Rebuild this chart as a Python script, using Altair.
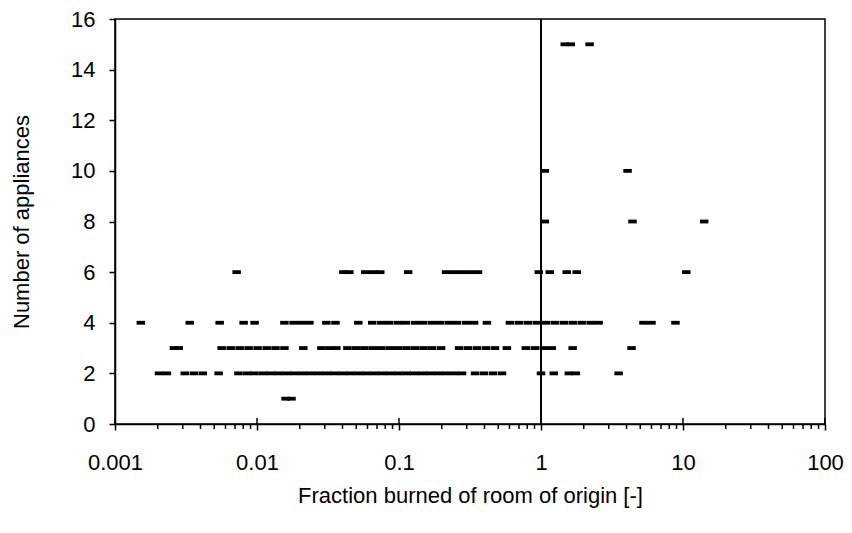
import altair as alt
import pandas as pd

# Fraction burned of room of origin, grouped by number of appliances
frac_1 = [0.0159, 0.0175]
frac_2 = [0.00204, 0.00232, 0.0031, 0.00359, 0.00415, 0.00537,
          0.0074, 0.0085, 0.0096, 0.011, 0.0125, 0.0142, 0.0162, 0.0184, 0.021, 0.0239,
          0.0272, 0.031, 0.0352, 0.0401, 0.0456, 0.0519, 0.059, 0.0672, 0.0765, 0.087,
          0.099, 0.113, 0.128, 0.146, 0.166, 0.189, 0.215, 0.245, 0.278,
          0.343, 0.396, 0.459, 0.531, 1.0, 1.23, 1.57, 1.76, 3.52]
frac_3 = [0.0026, 0.00281, 0.00564, 0.00653, 0.00755, 0.00873, 0.0101, 0.0117, 0.0135, 0.0156,
          0.0212, 0.0284, 0.0324, 0.0362,
          0.0433, 0.0497, 0.057, 0.0654, 0.075, 0.0861, 0.0987, 0.113, 0.13, 0.149, 0.171, 0.198,
          0.265, 0.306, 0.354, 0.41, 0.474, 0.575,
          0.782, 0.905, 1.046, 1.19, 1.67, 4.34]
frac_4 = [0.00152, 0.00336, 0.00546, 0.00805, 0.00962, 0.0156, 0.0181, 0.0206, 0.0234,
          0.0308, 0.0357, 0.0517,
          0.0648, 0.075, 0.0854, 0.0987, 0.112, 0.13, 0.148, 0.171, 0.195, 0.225, 0.256, 0.297, 0.338,
          0.416, 0.604, 0.699, 0.808, 0.934, 1.081, 1.25, 1.446, 1.672, 1.934, 2.237, 2.546,
          5.27, 6.0, 8.85]
frac_6 = [0.00719, 0.0406, 0.0447, 0.0579, 0.0659, 0.0738, 0.116,
          0.2145, 0.244, 0.278, 0.316, 0.36, 0.965, 1.153, 1.518, 1.784, 10.56]
frac_8 = [1.063, 4.41, 14.1]
frac_10 = [1.063, 4.07]
frac_15 = [1.47, 1.62, 2.2]

appliance_counts = [1, 2, 3, 4, 6, 8, 10, 15]
fractions = [frac_1, frac_2, frac_3, frac_4, frac_6, frac_8, frac_10, frac_15]

major_ticks = [0.001, 0.01, 0.1, 1, 10, 100]
minor_ticks = [0.002, 0.003, 0.004, 0.005, 0.006, 0.007, 0.008, 0.009,
               0.02, 0.03, 0.04, 0.05, 0.06, 0.07, 0.08, 0.09,
               0.2, 0.3, 0.4, 0.5, 0.6, 0.7, 0.8, 0.9,
               2, 3, 4, 5, 6, 7, 8, 9,
               20, 30, 40, 50, 60, 70, 80, 90]
y_ticks = [0, 2, 4, 6, 8, 10, 12, 14, 16]
ref_line = [1]

df = pd.DataFrame([{"frac": v, "n": n} for n, vals in zip(appliance_counts, fractions) for v in vals])
df_major = pd.DataFrame({"frac": major_ticks})
df_minor = pd.DataFrame({"frac": minor_ticks})
df_ref = pd.DataFrame({"frac": ref_line})

W, H = 710, 405
dash = "M-1,-0.45L1,-0.45L1,0.45L-1,0.45Z"
FONT = "Liberation Sans"
FS = 22

x_scale = alt.Scale(type="log", domain=[0.001, 100], nice=False)
y_scale = alt.Scale(domain=[0, 16], nice=False, zero=False)

x_axis = alt.Axis(
    title="Fraction burned of room of origin [-]", values=major_ticks, format="~g",
    tickSize=6, labelPadding=22, titlePadding=12, grid=False, labelFlush=False,
    labelFont=FONT, titleFont=FONT, labelFontSize=FS, titleFontSize=FS,
    titleFontWeight="normal", labelColor="black", titleColor="black",
    domainColor="black", tickColor="black", domainWidth=1.5, tickWidth=1.5)
y_axis = alt.Axis(
    title="Number of appliances", values=y_ticks, tickSize=6, labelPadding=14,
    titlePadding=37, grid=False,
    labelFont=FONT, titleFont=FONT, labelFontSize=FS, titleFontSize=FS,
    titleFontWeight="normal", labelColor="black", titleColor="black",
    domainColor="black", tickColor="black", domainWidth=1.5, tickWidth=1.5)

points = alt.Chart(df).mark_point(
    shape=dash, filled=True, size=72, color="black", opacity=1, strokeWidth=0
).encode(
    x=alt.X("frac:Q", scale=x_scale, axis=x_axis),
    y=alt.Y("n:Q", scale=y_scale, axis=y_axis),
)

ref = alt.Chart(df_ref).mark_rule(color="black", strokeWidth=2).encode(
    x=alt.X("frac:Q", scale=x_scale, axis=x_axis)
)

major = alt.Chart(df_major).mark_rule(color="black", strokeWidth=1.5).encode(
    x=alt.X("frac:Q", scale=x_scale, axis=x_axis),
    y=alt.value(H - 6), y2=alt.value(H),
)

minor = alt.Chart(df_minor).mark_rule(color="black", strokeWidth=1.5).encode(
    x=alt.X("frac:Q", scale=x_scale, axis=x_axis),
    y=alt.value(H), y2=alt.value(H + 5),
)

chart = alt.layer(points, ref, major, minor).properties(
    width=W, height=H,
    padding={"left": 107, "top": 11, "right": 19, "bottom": 101},
    autosize=alt.AutoSizeParams(type="none"),
).configure(
    font=FONT,
).configure_view(
    stroke="black", strokeWidth=1.5,
)

chart.save("out.html", embed_options={"renderer": "svg", "actions": False})
